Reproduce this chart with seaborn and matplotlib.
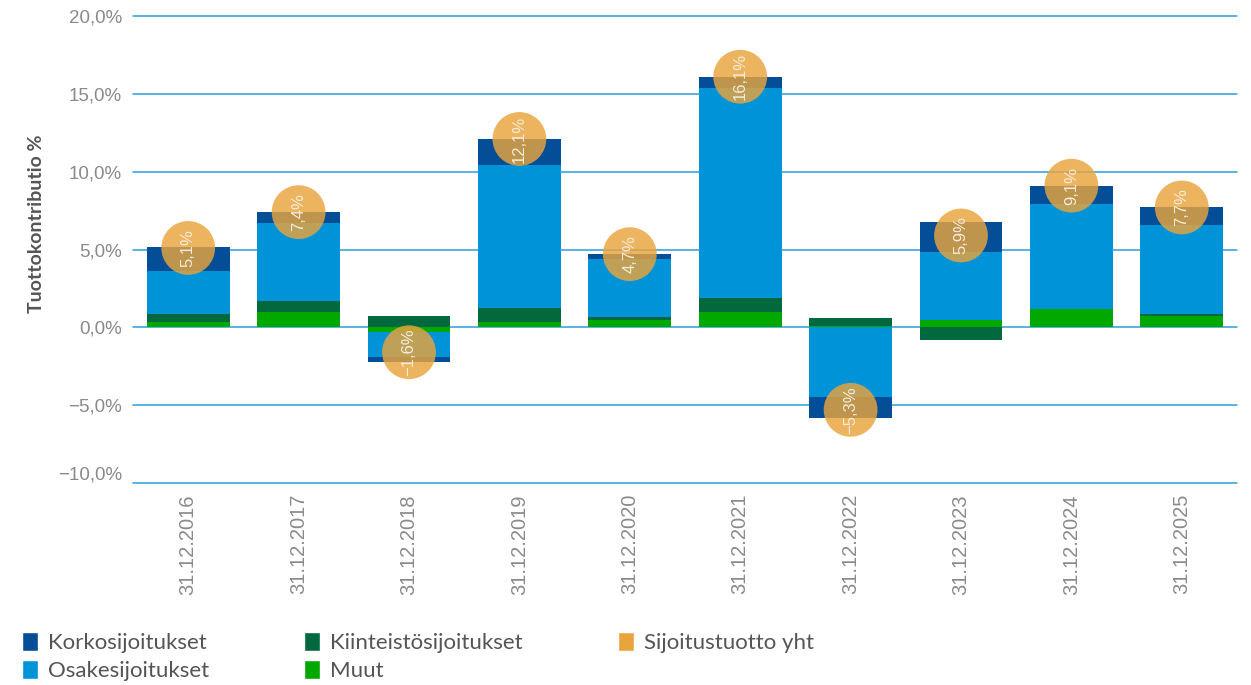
import numpy as np
import pandas as pd
import matplotlib
matplotlib.use("Agg")
import matplotlib.pyplot as plt
import seaborn as sns
from matplotlib.patches import Patch

# ---- data ----
dates = ["31.12.2016", "31.12.2017", "31.12.2018", "31.12.2019", "31.12.2020",
         "31.12.2021", "31.12.2022", "31.12.2023", "31.12.2024", "31.12.2025"]
muut = [0.35, 1.0, -0.3, 0.35, 0.5, 1.0, 0.1, 0.5, 1.15, 0.7]
kiinteisto = [0.5, 0.7, 0.7, 0.9, 0.15, 0.9, 0.5, -0.8, 0.0, 0.15]
osake = [2.75, 5.0, -1.6, 9.2, 3.75, 13.45, -4.45, 4.35, 6.75, 5.75]
korko = [1.55, 0.7, -0.35, 1.65, 0.3, 0.75, -1.35, 1.9, 1.2, 1.1]
total = [5.1, 7.4, -1.6, 12.1, 4.7, 16.1, -5.3, 5.9, 9.1, 7.7]
series_names = ["Muut", "Kiinteistösijoitukset", "Osakesijoitukset", "Korkosijoitukset"]
total_name = "Sijoitustuotto yht"
yticks = [-10, -5, 0, 5, 10, 15, 20]

colors = {
    "Korkosijoitukset": "#034e96",
    "Osakesijoitukset": "#0093d8",
    "Kiinteistösijoitukset": "#02693f",
    "Muut": "#00a800",
}
circle_color = "#eaa43c"
grid_color = "#2b9fd9"

sns.set_theme(style="white")
plt.rcParams["font.family"] = ["Liberation Sans", "DejaVu Sans"]

fig = plt.figure(figsize=(12.51, 6.85), dpi=100)
ax = fig.add_axes([133 / 1251, 1 - 483 / 685, (1237 - 133) / 1251, (483 - 16) / 685])

vals = np.array([muut, kiinteisto, osake, korko])
pos = np.clip(vals, 0, None)
neg = np.clip(vals, None, 0)
cum_pos = np.cumsum(pos, axis=0)
cum_neg = np.cumsum(neg, axis=0)

xs = np.arange(len(dates))
for idx in range(len(series_names) - 1, -1, -1):
    name = series_names[idx]
    for cum in (cum_pos, cum_neg):
        df = pd.DataFrame({"x": dates, "y": cum[idx]})
        sns.barplot(data=df, x="x", y="y", color=colors[name], saturation=1,
                    width=0.75, ax=ax, linewidth=0, zorder=3, order=dates)

# gridlines
for t in yticks:
    ax.axhline(t, color=grid_color, lw=1.1, zorder=1, clip_on=False)

# total circles
df_tot = pd.DataFrame({"x": xs, "y": total})
sns.scatterplot(data=df_tot, x="x", y="y", s=1500, color=circle_color, alpha=0.82,
                edgecolor="none", ax=ax, zorder=5, legend=False)
for i, t in enumerate(total):
    lab = f"{t:.1f}".replace(".", ",").replace("-", "\u2212") + "%"
    ax.text(i, t, lab, rotation=90, ha="center", va="center", color="#f4ecdc",
            fontsize=12, zorder=6, family=["Liberation Sans", "DejaVu Sans"])

ax.set_xlim(-0.5, len(dates) - 0.5)
ax.set_ylim(-10, 20)
ax.set_yticks(yticks)
ylabels = [f"{t:.1f}".replace(".", ",").replace("-", "\u2212") + "%" for t in yticks]
ax.set_yticklabels(ylabels)
for lbl, t in zip(ax.get_yticklabels(), yticks):
    if t == -10:
        lbl.set_verticalalignment("bottom")
ax.tick_params(axis="y", length=0, pad=8, labelsize=13.5, labelcolor="#8a8a8a")
ax.set_xticks(xs)
ax.set_xticklabels(dates, rotation=90)
ax.tick_params(axis="x", length=0, pad=8, labelsize=14.5, labelcolor="#8a8a8a")
ax.set_xlabel("")
ax.set_ylabel("Tuottokontributio %", fontsize=14, color="#555555", fontweight="bold",
              family=["Lato", "DejaVu Sans"])
ax.yaxis.set_label_coords(-88 / 1104, (483 - 224) / 467)
for s in ax.spines.values():
    s.set_visible(False)
ax.set_facecolor("white")

# legend
handles = [
    Patch(facecolor=colors["Korkosijoitukset"], label="Korkosijoitukset"),
    Patch(facecolor=colors["Osakesijoitukset"], label="Osakesijoitukset"),
    Patch(facecolor=colors["Kiinteistösijoitukset"], label="Kiinteistösijoitukset"),
    Patch(facecolor=colors["Muut"], label="Muut"),
    Patch(facecolor=circle_color, label=total_name),
]
leg = fig.legend(handles=handles, ncol=3, loc="upper left",
                 bbox_to_anchor=(2 / 1251, 1 - 612 / 685), frameon=False,
                 prop={"family": ["Lato", "DejaVu Sans"], "size": 16},
                 handlelength=0.7, handleheight=0.95, handletextpad=0.45,
                 columnspacing=4.3, labelspacing=0.3)
for txt in leg.get_texts():
    txt.set_color("#555555")

fig.savefig("out.png", dpi=100, facecolor="white")
